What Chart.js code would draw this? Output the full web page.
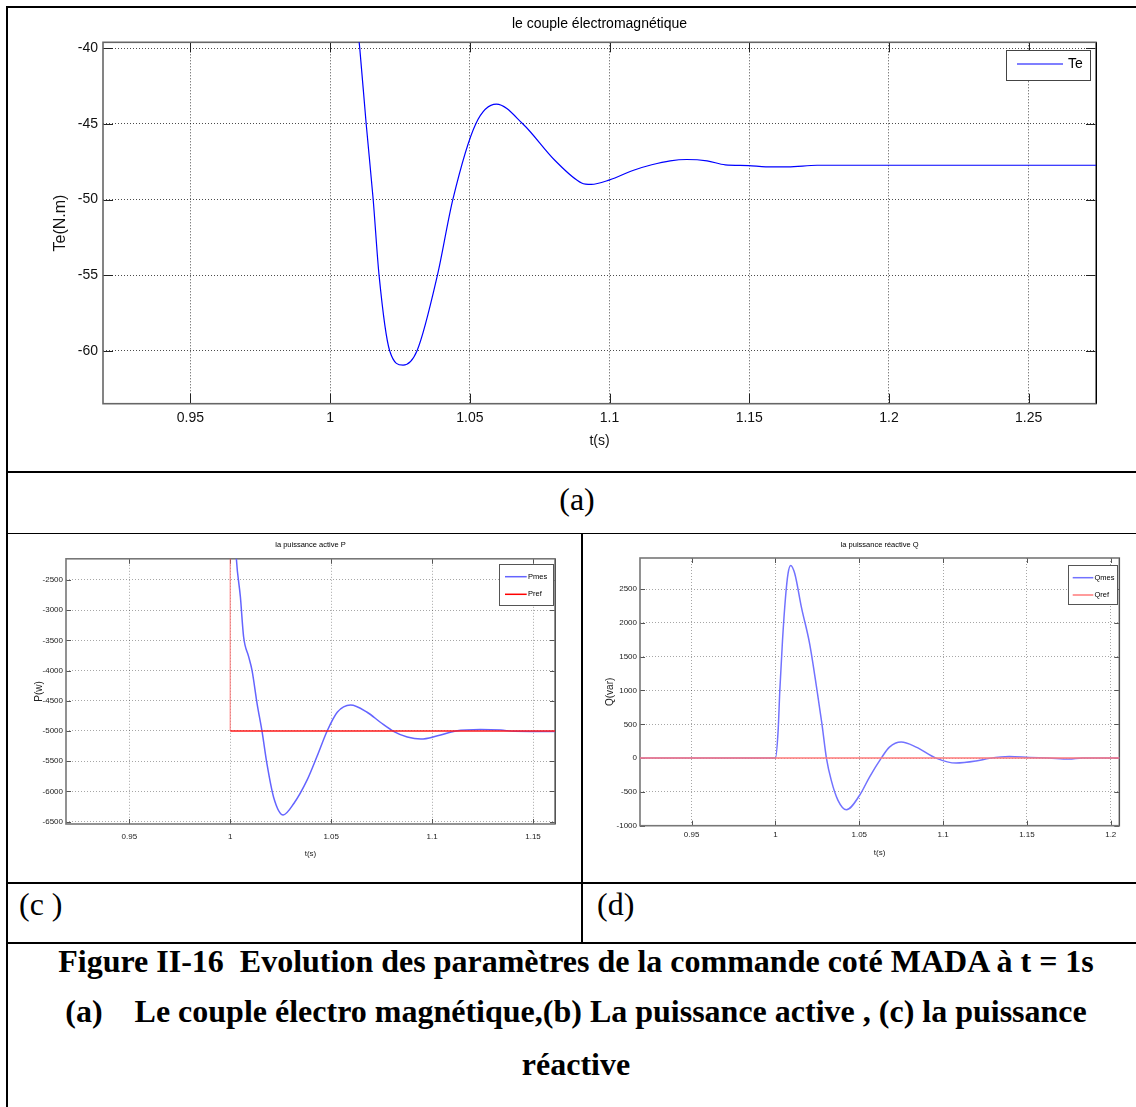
<!DOCTYPE html>
<html>
<head>
<meta charset="utf-8">
<title>Figure II-16</title>
<script src="https://cdn.jsdelivr.net/npm/chart.js"></script>
<style>
  body { margin: 0; background: #fff; }
  #page { position: relative; width: 1136px; height: 1107px; overflow: hidden; background: #fff; }
  .rule { position: absolute; background: #000; }
  canvas { position: absolute; }
  .soft { filter: blur(0.4px); }
  .lbl { position: absolute; font-family: 'Liberation Serif', 'Times New Roman', serif; font-size: 32px; line-height: 40px; white-space: pre; color: #000; }
  .cap { position: absolute; left: 0; width: 1152px; text-align: center; font-family: 'Liberation Serif', 'Times New Roman', serif; font-weight: bold; font-size: 32px; line-height: 40px; white-space: pre; color: #000; }
</style>
</head>
<body>
<div id="page">
  <div class="rule" style="left:6px;top:6px;width:1130px;height:2px"></div>
  <div class="rule" style="left:6px;top:6px;width:2px;height:1101px"></div>
  <div class="rule" style="left:6px;top:471px;width:1130px;height:2px"></div>
  <div class="rule" style="left:6px;top:533px;width:1130px;height:1px"></div>
  <div class="rule" style="left:6px;top:882px;width:1130px;height:2px"></div>
  <div class="rule" style="left:6px;top:942px;width:1130px;height:2px"></div>
  <div class="rule" style="left:581px;top:533px;width:2px;height:410px"></div>

  <canvas id="teChart" width="1128" height="462" style="left:8px;top:9px;width:1128px;height:462px"></canvas>
  <canvas id="pChart" class="soft" width="573" height="346" style="left:8px;top:535px;width:573px;height:346px"></canvas>
  <canvas id="qChart" class="soft" width="552" height="346" style="left:584px;top:535px;width:552px;height:346px"></canvas>

  <div class="lbl" style="left:0;width:1154px;text-align:center;top:479px">(a)</div>
  <div class="lbl" style="left:19px;top:884px">(c )</div>
  <div class="lbl" style="left:597px;top:884px">(d)</div>

  <div class="cap" style="top:941px">Figure II-16  Evolution des paramètres de la commande coté MADA à t = 1s</div>
  <div class="cap" style="top:991px">(a)    Le couple électro magnétique,(b) La puissance active , (c) la puissance</div>
  <div class="cap" style="top:1044px">réactive</div>
</div>

<script>
// (a) electromagnetic torque
const teTime = [1.000, 1.0106, 1.0129, 1.0154, 1.0175, 1.0213, 1.0261, 1.0311, 1.0384, 1.0439, 1.0521, 1.0595,
                1.0690, 1.0804, 1.0900, 1.0934, 1.1000, 1.1086, 1.1151, 1.1217, 1.1276, 1.1349, 1.1414, 1.1498,
                1.1559, 1.1638, 1.1743, 1.2741];
const teVal = [-20, -40, -45, -50, -55, -60, -60.95, -60, -55, -50, -45, -43.69,
               -45, -47.4, -48.9, -49.0, -48.7, -48.06, -47.7, -47.44, -47.35, -47.44, -47.7, -47.75,
               -47.84, -47.84, -47.73, -47.73];
const teTicksX = [0.95, 1, 1.05, 1.1, 1.15, 1.2, 1.25];
const teTicksY = [-60, -55, -50, -45, -40];

// (c) active power
const pTime = [0.90, 1.000, 1.003, 1.005, 1.0066, 1.0091, 1.0108, 1.0133, 1.0157, 1.0182, 1.0215, 1.0262,
               1.0315, 1.0381, 1.0430, 1.048, 1.053, 1.0596, 1.0678, 1.0745, 1.0811, 1.0877, 1.0944,
               1.1027, 1.1117, 1.124, 1.134, 1.1407, 1.165];
const pMes = [0, 0, -2140, -2777, -3440, -3770, -4000, -4550, -5000, -5550, -6100, -6390,
              -6200, -5810, -5420, -5000, -4690, -4570, -4690, -4860, -5010, -5100, -5135,
              -5080, -5000, -4975, -4985, -5005, -5010];
const pRefTime = [0.90, 1.0, 1.0, 1.165];
const pRef = [0, 0, -5000, -5000];
const pTicksX = [0.95, 1, 1.05, 1.1, 1.15];
const pTicksY = [-6500, -6000, -5500, -5000, -4500, -4000, -3500, -3000, -2500];

// (d) reactive power
const qTime = [0.90, 1.000, 1.0016, 1.0026, 1.0042, 1.006, 1.0075, 1.0091, 1.0115, 1.0155, 1.0204, 1.0248,
               1.0277, 1.0304, 1.0333, 1.0373, 1.0423, 1.0502, 1.0561, 1.0631, 1.068, 1.075, 1.0839,
               1.0958, 1.1077, 1.1196, 1.1276, 1.1395, 1.1514, 1.163, 1.175, 1.183, 1.21];
const qMes = [0, 0, 410, 1000, 1740, 2380, 2730, 2850, 2730, 2230, 1690, 1000,
              510, 0, -330, -625, -765, -550, -280, 0, 163, 237, 163,
              0, -74, -44, -4, 25, 10, 0, -15, 0, 0];
const qRefTime = [0.90, 1.21];
const qRef = [0, 0];
const qTicksX = [0.95, 1, 1.05, 1.1, 1.15, 1.2];
const qTicksY = [-1000, -500, 0, 500, 1000, 1500, 2000, 2500];

Chart.defaults.font.family = "'Liberation Sans', Arial, sans-serif";

function toPoints(xs, ys) {
  return xs.map((x, i) => ({ x: x, y: ys[i] }));
}

// box + inward ticks on all four sides, like a matlab axes
const matlabAxes = {
  id: 'matlabAxes',
  beforeDatasetsDraw(chart, args, o) {
    const { ctx, chartArea: a, scales: { x, y } } = chart;
    ctx.save();
    ctx.strokeStyle = o.tickColor;
    ctx.lineWidth = 1;
    ctx.beginPath();
    x.ticks.forEach(t => {
      const px = Math.round(x.getPixelForValue(t.value)) + 0.5;
      ctx.moveTo(px, a.bottom); ctx.lineTo(px, a.bottom - o.len);
      ctx.moveTo(px, a.top); ctx.lineTo(px, a.top + o.len);
    });
    y.ticks.forEach(t => {
      const py = Math.round(y.getPixelForValue(t.value)) + 0.5;
      ctx.moveTo(a.left, py); ctx.lineTo(a.left + o.len, py);
      ctx.moveTo(a.right, py); ctx.lineTo(a.right - o.len, py);
    });
    ctx.stroke();
    ctx.strokeStyle = o.color;
    ctx.lineWidth = o.width;
    ctx.strokeRect(a.left, a.top, a.right - a.left, a.bottom - a.top);
    // right edge is drawn darker in the original
    ctx.strokeStyle = o.rightColor;
    ctx.lineWidth = 1;
    ctx.beginPath();
    ctx.moveTo(Math.round(a.right) + 0.5, a.top);
    ctx.lineTo(Math.round(a.right) + 0.5, a.bottom);
    ctx.stroke();
    ctx.restore();
  }
};

// legend drawn inside a bordered box at the top right of the plot
const boxLegend = {
  id: 'boxLegend',
  afterDraw(chart, args, o) {
    const { ctx, chartArea: a } = chart;
    const left = a.right - o.right - o.width;
    const top = a.top + o.top;
    ctx.save();
    ctx.fillStyle = '#fff';
    ctx.fillRect(left, top, o.width, o.height);
    ctx.strokeStyle = o.border;
    ctx.lineWidth = 1;
    ctx.strokeRect(left + 0.5, top + 0.5, o.width, o.height);
    ctx.font = o.font;
    ctx.textBaseline = 'middle';
    chart.data.datasets.forEach((ds, i) => {
      const yy = top + o.rows[i];
      ctx.strokeStyle = ds.borderColor;
      ctx.lineWidth = o.lineWidth;
      ctx.beginPath();
      ctx.moveTo(left + o.lineFrom, yy);
      ctx.lineTo(left + o.lineTo, yy);
      ctx.stroke();
      ctx.fillStyle = '#000';
      ctx.fillText(ds.label, left + o.textX, yy);
    });
    ctx.restore();
  }
};

Chart.register(matlabAxes, boxLegend);

function plotOptions(c) {
  return {
    responsive: false,
    animation: false,
    events: [],
    layout: { padding: { left: 0, top: 0, right: c.padRight, bottom: 0 } },
    plugins: {
      legend: { display: false },
      tooltip: { enabled: false },
      title: {
        display: true, text: c.title, color: '#000', fullSize: false,
        font: { size: c.titleSize, weight: 'normal' },
        padding: { top: c.titleTop, bottom: c.titleBottom }
      },
      matlabAxes: c.axes,
      boxLegend: c.legend
    },
    scales: {
      x: {
        type: 'linear', min: c.xMin, max: c.xMax,
        afterBuildTicks: s => { s.ticks = c.xTicks.map(v => ({ value: v })); },
        afterFit: s => { s.height = c.xHeight; },
        grid: { color: c.gridColor, drawTicks: false, lineWidth: 1 },
        border: { display: false, dash: c.dash },
        ticks: { color: c.textColor, font: { size: c.tickSize }, padding: c.xTickPad, maxRotation: 0, autoSkip: false, callback: v => String(v) },
        title: { display: true, text: 't(s)', color: c.textColor, font: { size: c.labelSize }, padding: { top: 0, bottom: c.xTitlePad } }
      },
      y: {
        type: 'linear', min: c.yMin, max: c.yMax,
        afterBuildTicks: s => { s.ticks = c.yTicks.map(v => ({ value: v })); },
        afterFit: s => { s.width = c.yWidth; },
        grid: { color: c.gridColor, drawTicks: false, lineWidth: 1 },
        border: { display: false, dash: c.dash },
        ticks: { color: c.textColor, font: { size: c.tickSize }, padding: c.yTickPad, autoSkip: false, callback: v => String(v) },
        title: { display: true, text: c.yLabel, color: c.textColor, font: { size: c.yLabelSize }, padding: { top: c.yTitlePad, bottom: 0 } }
      }
    }
  };
}

new Chart(document.getElementById('teChart').getContext('2d'), {
  type: 'line',
  data: {
    datasets: [
      { label: 'Te', data: toPoints(teTime, teVal), borderColor: '#0000ff', borderWidth: 1.2,
        pointRadius: 0, cubicInterpolationMode: 'monotone', fill: false }
    ]
  },
  options: plotOptions({
    title: 'le couple électromagnétique', titleSize: 14, titleTop: 6.6, titleBottom: 9.9,
    padRight: 40, xHeight: 67.3, yWidth: 95,
    xMin: 0.9187, xMax: 1.2741, yMin: -63.5, yMax: -39.6,
    xTicks: teTicksX, yTicks: teTicksY,
    gridColor: 'rgba(0,0,0,0.7)', dash: [1, 2], textColor: '#111',
    tickSize: 14, labelSize: 14, yLabelSize: 16, xTickPad: 6.2, yTickPad: 5,
    xTitlePad: 21.6, yTitlePad: 43.4, yLabel: 'Te(N.m)',
    axes: { color: '#666', width: 1.6, rightColor: '#000', tickColor: '#222', len: 10 },
    legend: { right: 6, top: 7.7, width: 84, height: 30, rows: [14], lineFrom: 11, lineTo: 57,
              textX: 62, font: "14px 'Liberation Sans', Arial, sans-serif", lineWidth: 1.2, border: '#444' }
  })
});

new Chart(document.getElementById('pChart').getContext('2d'), {
  type: 'line',
  data: {
    datasets: [
      { label: 'Pmes', data: toPoints(pTime, pMes), borderColor: '#6464ff', borderWidth: 1.5,
        pointRadius: 0, cubicInterpolationMode: 'monotone', fill: false, order: 1 },
      { label: 'Pref', data: toPoints(pRefTime, pRef), borderColor: '#ff0000', borderWidth: 1.5,
        pointRadius: 0, fill: false, order: 0,
        segment: { borderColor: s => s.p0.parsed.x === s.p1.parsed.x ? 'rgba(255,90,90,0.55)' : '#ff1a1a' } }
    ]
  },
  options: plotOptions({
    title: 'la puissance active P', titleSize: 7.5, titleTop: 5.5, titleBottom: 9.3,
    padRight: 26, xHeight: 57, yWidth: 58,
    xMin: 0.9186, xMax: 1.1609, yMin: -6540, yMax: -2150,
    xTicks: pTicksX, yTicks: pTicksY,
    gridColor: 'rgba(0,0,0,0.35)', dash: [1, 2], textColor: '#222',
    tickSize: 8, labelSize: 8, yLabelSize: 10, xTickPad: 7.9, yTickPad: 3,
    xTitlePad: 22.9, yTitlePad: 25.3, yLabel: 'P(w)',
    axes: { color: '#777', width: 1.6, rightColor: '#555', tickColor: '#555', len: 5 },
    legend: { right: 2, top: 5.2, width: 54, height: 41, rows: [12.7, 30.3], lineFrom: 6, lineTo: 27.7,
              textX: 29, font: "7.5px 'Liberation Sans', Arial, sans-serif", lineWidth: 1.5, border: '#555' }
  })
});

new Chart(document.getElementById('qChart').getContext('2d'), {
  type: 'line',
  data: {
    datasets: [
      { label: 'Qmes', data: toPoints(qTime, qMes), borderColor: '#7272ff', borderWidth: 1.5,
        pointRadius: 0, cubicInterpolationMode: 'monotone', fill: false, order: 1 },
      { label: 'Qref', data: toPoints(qRefTime, qRef), borderColor: '#ff7a7a', borderWidth: 1.5,
        pointRadius: 0, fill: false, order: 0 }
    ]
  },
  options: plotOptions({
    title: 'la puissance réactive Q', titleSize: 7.5, titleTop: 5.5, titleBottom: 8.5,
    padRight: 16.7, xHeight: 55.3, yWidth: 56,
    xMin: 0.9192, xMax: 1.2051, yMin: -1000, yMax: 2960,
    xTicks: qTicksX, yTicks: qTicksY,
    gridColor: 'rgba(0,0,0,0.35)', dash: [1, 2], textColor: '#222',
    tickSize: 8, labelSize: 8, yLabelSize: 10, xTickPad: 4.5, yTickPad: 3,
    xTitlePad: 23.2, yTitlePad: 20, yLabel: 'Q(var)',
    axes: { color: '#777', width: 1.6, rightColor: '#555', tickColor: '#555', len: 5 },
    legend: { right: 2.3, top: 7, width: 49, height: 39, rows: [12.7, 30], lineFrom: 4.7, lineTo: 25.3,
              textX: 26.5, font: "7.5px 'Liberation Sans', Arial, sans-serif", lineWidth: 1.5, border: '#555' }
  })
});
</script>
</body>
</html>
